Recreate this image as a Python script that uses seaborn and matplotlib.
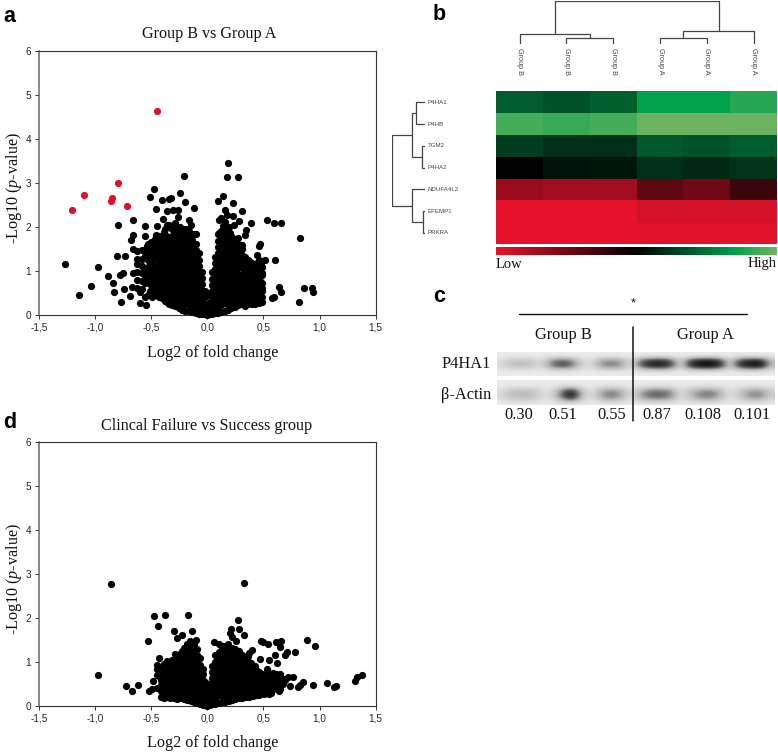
import numpy as np
import pandas as pd
import matplotlib
matplotlib.use("Agg")
import matplotlib.pyplot as plt
from matplotlib import font_manager
from matplotlib.colors import LinearSegmentedColormap
import seaborn as sns

W, H = 778, 753

# ---------- Panel a: labelled points ----------
a_red_x = [-0.451, -0.793, -1.096, -0.85, -0.858, -0.72, -1.21]
a_red_y = [4.64, 3.0, 2.73, 2.67, 2.60, 2.48, 2.38]
a_sparse_x = [0.187,-0.208,0.175,0.276,-0.478,-0.514,-0.247,-0.324,-0.40,-0.339,-0.199,0.137,0.098,0.232,
    -0.454,-0.116,0.306,-0.362,-0.303,-0.264,0.157,0.172,0.232,-0.258,-0.398,-0.166,-0.665,0.532,0.594,0.653,
    0.386,0.107,-0.799,-0.558,-0.445,-0.347,0.285,0.24,0.143,0.347,0.339,0.823,-0.665,-0.68,-0.558,-0.454,
    0.469,0.457,0.306,0.514,0.606,0.445,-1.265,-0.974,-0.805,-0.731,-0.659,-0.778,-0.748,-0.885,-0.659,-0.84,
    -1.04,-1.143,-0.832,-0.742,-0.772,-0.689,-0.674,-0.597,-0.597,-0.549,0.49,0.445,0.49,0.484,0.636,0.656,
    0.579,0.594,0.817,0.864,0.935,0.944,0.463,0.41,0.457,
    -0.36,-0.32,-0.29,-0.24,-0.15,-0.11,-0.17,-0.38,-0.33,-0.45,-0.5,-0.54,
    0.1,0.17,0.2,0.12,0.16,0.19,0.25,0.27,0.29,0.335,0.37,0.39,0.41,0.44,0.46,0.48]
a_sparse_y = [3.46,3.17,3.14,3.14,2.87,2.68,2.77,2.67,2.61,2.64,2.56,2.70,2.58,2.55,
    2.42,2.43,2.36,2.36,2.39,2.39,2.38,2.28,2.24,2.23,2.19,2.17,2.15,2.17,2.09,2.09,
    2.10,2.16,2.04,2.03,2.03,2.05,2.13,2.04,2.03,1.94,1.81,1.74,1.81,1.71,1.80,1.81,
    1.61,1.56,1.6,1.26,1.26,1.37,1.17,1.08,1.33,1.35,1.5,0.92,0.95,0.89,0.95,0.73,
    0.65,0.45,0.53,0.59,0.29,0.44,0.64,0.53,0.27,0.23,0.96,0.80,0.73,0.61,0.64,0.52,
    0.39,0.42,0.30,0.61,0.61,0.52,0.46,0.27,0.27,
    2.05,2.03,2.08,2.0,2.05,1.85,1.95,1.82,1.78,1.72,1.65,1.56,
    1.87,1.95,1.87,2.2,2.12,2.0,1.72,1.75,1.58,1.2,1.22,1.12,1.02,1.05,1.25,1.2]
# dense cloud, estimated column by column
a_dense = {
 -0.625:[1.45,1.28,1.15,0.98,0.8,0.62], -0.585:[1.48,1.28,1.12,0.95,0.78,0.58],
 -0.555:[1.45,1.35,1.05,0.88,0.72,0.4], -0.525:[1.62,1.5,1.25,1.1,0.92,0.78,0.45],
 -0.495:[1.65,1.42,1.18,1.0,0.85,0.62,0.42], -0.465:[1.72,1.5,1.3,1.1,0.95,0.78,0.62,0.46],
 -0.435:[1.8,1.6,1.4,1.22,1.0,0.82,0.65,0.4], -0.405:[1.72,1.52,1.28,1.12,0.9,0.72,0.52,0.38],
 -0.375:[1.95,1.82,1.62,1.45,1.25,1.05,0.85,0.62,0.48,0.32],
 -0.345:[2.05,1.78,1.6,1.42,1.25,1.1,0.95,0.8,0.65,0.5,0.36,0.25],
 -0.315:[1.95,1.8,1.68,1.52,1.38,1.22,1.08,0.92,0.78,0.62,0.48,0.34,0.22],
 -0.285:[2.0,1.85,1.72,1.58,1.44,1.3,1.16,1.02,0.88,0.74,0.6,0.46,0.32,0.2],
 -0.255:[1.95,1.8,1.66,1.52,1.38,1.24,1.1,0.96,0.82,0.68,0.54,0.4,0.26,0.16],
 -0.225:[1.9,1.76,1.62,1.48,1.34,1.2,1.06,0.92,0.78,0.64,0.5,0.36,0.22,0.12],
 -0.195:[1.95,1.8,1.66,1.52,1.38,1.24,1.1,0.96,0.82,0.68,0.54,0.4,0.26,0.1],
 -0.165:[1.9,1.76,1.62,1.48,1.34,1.2,1.06,0.92,0.78,0.64,0.5,0.36,0.22,0.08],
 -0.135:[1.85,1.7,1.56,1.42,1.28,1.14,1.0,0.86,0.72,0.58,0.44,0.3,0.16,0.06],
 -0.105:[1.85,1.62,1.48,1.34,1.2,1.06,0.92,0.78,0.64,0.5,0.36,0.22,0.05],
 -0.075:[1.4,1.26,1.12,0.98,0.84,0.7,0.56,0.42,0.28,0.14,0.03],
 -0.045:[0.98,0.85,0.7,0.56,0.42,0.28,0.14,0.02], -0.02:[0.55,0.4,0.25,0.1,0.02],
 0.0:[0.12,0.01], 0.02:[0.45,0.3,0.15,0.02],
 0.045:[0.98,0.82,0.68,0.54,0.4,0.26,0.12,0.02], 0.07:[1.32,1.18,1.04,0.9,0.76,0.62,0.48,0.34,0.2,0.05],
 0.095:[1.85,1.68,1.54,1.4,1.26,1.12,0.98,0.84,0.7,0.56,0.42,0.28,0.14,0.05],
 0.125:[1.9,1.76,1.62,1.48,1.34,1.2,1.06,0.92,0.78,0.64,0.5,0.36,0.22,0.07],
 0.155:[1.95,1.82,1.68,1.54,1.4,1.26,1.12,0.98,0.84,0.7,0.56,0.42,0.28,0.1],
 0.185:[1.9,1.76,1.62,1.48,1.34,1.2,1.06,0.92,0.78,0.64,0.5,0.36,0.22,0.12],
 0.215:[1.8,1.66,1.52,1.38,1.24,1.1,0.96,0.82,0.68,0.54,0.4,0.26,0.15],
 0.245:[1.72,1.58,1.44,1.3,1.16,1.02,0.88,0.74,0.6,0.46,0.32,0.18],
 0.275:[1.62,1.48,1.34,1.2,1.06,0.92,0.78,0.64,0.5,0.36,0.22],
 0.305:[1.5,1.36,1.22,1.08,0.94,0.8,0.66,0.52,0.38,0.24],
 0.335:[1.32,1.18,1.04,0.9,0.76,0.62,0.48,0.34,0.2],
 0.365:[1.25,1.1,0.95,0.8,0.65,0.5,0.36,0.24],
 0.395:[1.18,1.02,0.85,0.7,0.52,0.38,0.26],
 0.425:[1.08,0.9,0.72,0.55,0.42,0.26], 0.455:[1.2,1.0,0.85,0.72,0.5,0.36],
 0.485:[1.22,1.08,0.9,0.55,0.42,0.3],
}
a_fill = {
 -0.51:[1.55,1.38,1.2,1.05,0.88,0.7,0.55], -0.48:[1.58,1.32,1.12,0.92,0.7,0.52],
 -0.45:[1.7,1.5,1.32,1.12,0.9,0.72,0.52], -0.42:[1.62,1.42,1.2,1.02,0.82,0.62,0.45],
 -0.39:[1.88,1.72,1.55,1.35,1.15,0.98,0.78,0.58,0.42], -0.36:[1.7,1.52,1.35,1.15,0.95,0.75,0.58,0.4,0.3],
 0.38:[1.15,0.98,0.78,0.6,0.42,0.3], 0.41:[1.0,0.82,0.62,0.45,0.32],
 0.44:[1.12,0.95,0.78,0.62,0.45,0.32], 0.47:[1.05,0.78,0.6,0.4],
}

# ---------- Panel d ----------
d_sparse_x = [-0.855,0.324,-0.475,-0.377,-0.172,0.276,-0.442,0.208,0.279,-0.297,-0.134,0.202,0.33,-0.223,-0.273,
    0.217,0.255,-0.529,-0.104,-0.154,0.062,0.107,0.187,0.143,0.481,0.499,0.543,0.609,0.653,0.647,0.885,0.959,
    0.401,0.374,0.784,0.713,0.692,0.606,0.365,0.62,0.469,0.552,-0.288,-0.273,-0.428,-0.451,-0.451,-0.451,-0.422,
    -0.487,-0.345,-0.977,-0.725,-0.668,-0.62,-0.517,-0.496,-0.445,1.375,1.33,1.313,1.063,0.938,1.132,1.143,
    0.855,0.825,0.81,0.766,0.722,0.677,0.737,0.647,0.647,0.582,0.529,0.425,0.395,0.692,0.632,0.588,0.603,0.529,
    0.558,0.499,0.44,0.469,0.41]
d_sparse_y = [2.78,2.80,2.05,2.07,2.06,1.95,1.81,1.75,1.75,1.70,1.70,1.67,1.61,1.61,1.55,
    1.57,1.47,1.47,1.51,1.47,1.45,1.42,1.40,1.36,1.48,1.45,1.40,1.45,1.47,1.34,1.50,1.37,
    1.28,1.2,1.22,1.22,1.17,1.15,1.14,0.97,1.06,1.04,1.19,1.11,1.08,0.94,0.84,0.71,0.66,
    0.56,1.0,0.70,0.45,0.33,0.48,0.34,0.39,0.40,0.70,0.65,0.56,0.52,0.48,0.43,0.45,
    0.54,0.48,0.43,0.65,0.67,0.62,0.45,0.73,0.39,0.75,0.83,0.92,0.83,0.6,0.52,0.45,0.64,0.56,
    0.37,0.30,0.41,0.6,0.22]
d_dense = {
 -0.41:[0.72,0.6,0.48,0.34,0.2], -0.385:[0.95,0.82,0.68,0.54,0.4,0.26,0.18],
 -0.36:[1.02,0.88,0.76,0.62,0.48,0.34,0.2], -0.33:[0.98,0.84,0.7,0.56,0.42,0.28,0.18],
 -0.30:[1.0,0.88,0.74,0.6,0.46,0.32,0.18], -0.27:[1.1,0.98,0.84,0.7,0.56,0.42,0.28,0.16],
 -0.24:[1.18,1.02,0.88,0.74,0.6,0.46,0.32,0.18], -0.21:[1.32,1.18,1.04,0.9,0.76,0.62,0.48,0.34,0.16],
 -0.18:[1.4,1.26,1.12,0.98,0.84,0.7,0.56,0.42,0.28,0.14], -0.15:[1.45,1.32,1.18,1.04,0.9,0.76,0.62,0.48,0.34,0.2,0.12],
 -0.12:[1.42,1.28,1.14,1.0,0.86,0.72,0.58,0.44,0.3,0.16,0.09], -0.09:[1.3,1.16,1.02,0.88,0.74,0.6,0.46,0.32,0.18,0.06],
 -0.065:[1.08,0.94,0.8,0.66,0.52,0.38,0.24,0.05], -0.04:[0.85,0.72,0.58,0.44,0.3,0.16,0.03],
 -0.02:[0.55,0.42,0.28,0.14,0.02], 0.0:[0.12,0.01], 0.02:[0.5,0.36,0.22,0.08,0.02],
 0.045:[0.92,0.78,0.64,0.5,0.36,0.22,0.04], 0.07:[1.15,1.0,0.86,0.72,0.58,0.44,0.3,0.16,0.05],
 0.10:[1.22,1.08,0.94,0.8,0.66,0.52,0.38,0.24,0.06], 0.13:[1.32,1.18,1.04,0.9,0.76,0.62,0.48,0.34,0.2,0.08],
 0.16:[1.3,1.16,1.02,0.88,0.74,0.6,0.46,0.32,0.18,0.1], 0.19:[1.35,1.22,1.08,0.94,0.8,0.66,0.52,0.38,0.24,0.12],
 0.22:[1.32,1.18,1.04,0.9,0.76,0.62,0.48,0.34,0.2,0.14], 0.25:[1.3,1.16,1.02,0.88,0.74,0.6,0.46,0.32,0.16],
 0.28:[1.25,1.1,0.96,0.82,0.68,0.54,0.4,0.26,0.18], 0.31:[1.15,1.0,0.86,0.72,0.58,0.44,0.3,0.18],
 0.34:[1.08,0.94,0.8,0.66,0.52,0.38,0.24,0.2], 0.37:[1.0,0.86,0.72,0.58,0.44,0.3,0.2],
 0.40:[0.92,0.78,0.64,0.5,0.36,0.22], 0.43:[0.82,0.68,0.54,0.4,0.26], 0.46:[0.78,0.64,0.5,0.36,0.26],
 0.49:[0.72,0.58,0.44,0.3], 0.52:[0.72,0.58,0.44,0.32], 0.55:[0.68,0.54,0.4,0.28], 0.58:[0.62,0.48,0.36],
 0.61:[0.72,0.58,0.42], 0.64:[0.6,0.48,0.35], 0.67:[0.62,0.5],
}
d_fill = {
 -0.395:[0.88,0.74,0.6,0.46,0.32,0.2], -0.37:[0.95,0.8,0.66,0.52,0.38,0.26],
 -0.345:[0.92,0.78,0.64,0.5,0.36,0.24], -0.315:[1.05,0.9,0.76,0.62,0.48,0.34,0.22],
 -0.285:[1.02,0.92,0.78,0.64,0.5,0.36,0.24], -0.255:[1.12,0.98,0.84,0.7,0.56,0.42,0.28,0.18],
 -0.225:[1.25,1.1,0.96,0.82,0.68,0.54,0.4,0.26], -0.195:[1.32,1.2,1.06,0.92,0.78,0.64,0.5,0.36,0.22],
 0.295:[1.18,1.05,0.9,0.76,0.62,0.48,0.34,0.22], 0.325:[1.12,0.98,0.84,0.7,0.56,0.42,0.28],
 0.355:[1.02,0.9,0.76,0.62,0.48,0.34,0.22], 0.385:[0.98,0.82,0.68,0.54,0.4,0.26],
 0.415:[0.88,0.72,0.58,0.44,0.3], 0.445:[0.8,0.62,0.48,0.34,0.24], 0.475:[0.72,0.56,0.42,0.3],
 0.505:[0.66,0.52,0.38,0.28], 0.535:[0.6,0.46,0.34], 0.565:[0.72,0.55,0.42,0.3],
}

# ---------- Panel b ----------
genes = ["P4HA1", "P4HB", "TGM2", "P4HA2", "NDUFA4L2", "EFEMP1", "PRKRA"]
samples = ["Group B", "Group B", "Group B", "Group A", "Group A", "Group A"]
expr = [[0.70, 0.68, 0.71, 0.85, 0.85, 0.90],
        [0.94, 0.92, 0.94, 0.99, 0.99, 0.99],
        [0.63, 0.60, 0.60, 0.69, 0.68, 0.70],
        [0.50, 0.54, 0.55, 0.60, 0.585, 0.61],
        [0.17, 0.15, 0.15, 0.30, 0.26, 0.37],
        [0.00, 0.00, 0.00, 0.04, 0.04, 0.04],
        [0.00, 0.00, 0.00, 0.01, 0.01, 0.01]]
heat_nodes = [(0.0, "#e6122b"), (0.5, "#000000"), (0.85, "#00a04c"), (1.0, "#72b361")]
# dendrogram merges: (left position, left base, right position, right base, height), leaf units
col_merges = [(1, 0, 2, 0, 6), (0, 0, 1.5, 6, 10), (3, 0, 4, 0, 6.5), (3.5, 6.5, 5, 0, 13), (0.75, 10, 4.25, 13, 43.5)]
row_merges = [(0, 0, 1, 0, 27), (2, 0, 3, 0, 10), (0.5, 27, 2.5, 10, 40), (5, 0, 6, 0, 5),
              (4, 0, 5.5, 5, 40), (1.5, 40, 4.75, 40, 98)]

# ---------- Panel c ----------
lane_labels = ["0.30", "0.51", "0.55", "0.87", "0.108", "0.101"]
p4ha1_band = [.1,.25,.27,.22,.08,.5,.68,.55,.15,.08,.42,.5,.42,.06,.6,.85,.9,.72,.08,.8,.95,1.0,.8,.12,.8,.9,1.0,.3]
p4ha1_rows = [0.0, 0.15, 0.7, 1.0, 1.0, 0.55, 0.1, 0.0]
actin_band = [.1,.28,.3,.28,.12,.08,.55,1.0,.3,.04,.4,.55,.4,.04,.4,.6,.62,.5,.06,.3,.5,.55,.35,.05,.25,.45,.5,.2]
actin_rows = [0.0, 0.05, 0.4, 0.85, 1.0, 0.9, 0.5, 0.1]

# ---------- Layout helpers ----------
def rect(x0, y0, x1, y1):
    return [x0 / W, 1 - y1 / H, (x1 - x0) / W, (y1 - y0) / H]

def ftext(x, y, s, **kw):
    kw.setdefault("ha", "center")
    kw.setdefault("va", "center")
    kw.setdefault("family", "Liberation Serif")
    kw.setdefault("color", "#111111")
    fig.text(x / W, 1 - y / H, s, **kw)

def flatten(*dicts):
    xs, ys = [], []
    for d in dicts:
        for x, vals in d.items():
            xs += [x] * len(vals)
            ys += vals
    return xs, ys

sns.set_theme(style="ticks")
plt.rcParams["font.family"] = ["Liberation Sans", "DejaVu Sans"]
plt.rcParams["mathtext.fontset"] = "custom"
plt.rcParams["mathtext.it"] = "Liberation Serif:italic"
plt.rcParams["mathtext.rm"] = "Liberation Serif"

installed = {f.name for f in font_manager.fontManager.ttflist}
narrow_ok = "Liberation Sans Narrow" in installed
small_family = "Liberation Sans Narrow" if narrow_ok else "Liberation Sans"
row_size = 5.2 if narrow_ok else 4.4

fig = plt.figure(figsize=(W / 100, H / 100), dpi=100)

xticks = [-1.5, -1.0, -0.5, 0.0, 0.5, 1.0, 1.5]
xticklabels = ["-1,5", "-1,0", "-0,5", "0,0", "0,5", "1,0", "1,5"]
yticks = [0, 1, 2, 3, 4, 5, 6]

def volcano(box, xs, ys, red_x=None, red_y=None):
    ax = fig.add_axes(rect(*box))
    df = pd.DataFrame({"fc": xs, "p": ys})
    sns.scatterplot(data=df, x="fc", y="p", ax=ax, color="#000000", s=27, linewidth=0, clip_on=False, zorder=3)
    if red_x:
        sns.scatterplot(x=red_x, y=red_y, ax=ax, color="#d7142c", s=27, linewidth=0, clip_on=False, zorder=4)
    ax.set_xlim(-1.5, 1.5)
    ax.set_ylim(0, 6)
    ax.set_xticks(xticks, xticklabels)
    ax.set_yticks(yticks)
    ax.tick_params(length=3, width=0.7, labelsize=7.2, color="#333333", labelcolor="#222222", pad=2.5)
    ax.set_xlabel("")
    ax.set_ylabel("")
    for sp in ax.spines.values():
        sp.set_visible(True)
        sp.set_linewidth(0.8)
        sp.set_color("#333333")
    ax.spines["left"].set_color("#666666")
    ax.spines["left"].set_linewidth(1.1)
    return ax

ax_a_x, ax_a_y = flatten(a_dense, a_fill)
volcano((39, 51, 375.7, 315), ax_a_x + a_sparse_x, ax_a_y + a_sparse_y, a_red_x, a_red_y)
ax_d_x, ax_d_y = flatten(d_dense, d_fill)
volcano((39, 442, 375.7, 706), ax_d_x + d_sparse_x, ax_d_y + d_sparse_y)

ylab = r"-Log10 ($\mathit{p}$-value)"
ftext(209.5, 34, "Group B vs Group A", fontsize=11.6)
ftext(207, 426, "Clincal Failure vs Success group", fontsize=11.6)
ftext(213, 353, "Log2 of fold change", fontsize=11.6)
ftext(213, 743, "Log2 of fold change", fontsize=11.6)
ftext(14, 188, ylab, fontsize=11.6, rotation=90)
ftext(14, 579, ylab, fontsize=11.6, rotation=90)

# Panel b heat map with colour bar
cmap = LinearSegmentedColormap.from_list("rkg", heat_nodes)
ax_h = fig.add_axes(rect(496.3, 91.3, 777, 244))
ax_cb = fig.add_axes(rect(496.3, 247, 777, 255))
sns.heatmap(pd.DataFrame(expr, index=genes), ax=ax_h, cmap=cmap, vmin=0, vmax=1, cbar_ax=ax_cb,
            cbar_kws={"orientation": "horizontal"}, xticklabels=False, yticklabels=False)
ax_cb.set_xticks([])
ax_cb.tick_params(length=0)
for sp in ax_cb.spines.values():
    sp.set_visible(False)
ftext(496, 264, "Low", fontsize=10.5, ha="left")
ftext(777, 264, "High", fontsize=10.5, ha="right")

ax_ct = fig.add_axes(rect(496.3, 0.7, 777, 44.2))
ax_ct.axis("off")
ax_ct.set_xlim(-0.5, 5.5)
ax_ct.set_ylim(0, 43.5)
for x0, b0, x1, b1, h in col_merges:
    ax_ct.plot([x0, x0, x1, x1], [b0, h, h, b1], color="#444444", lw=0.9, solid_joinstyle="miter")
for i, s in enumerate(samples):
    ftext(519.7 + i * 46.8, 61.5, s, fontsize=5.2, rotation=-90, family="Liberation Sans", color="#444444")

ax_cr = fig.add_axes(rect(392.3, 91.3, 425, 244))
ax_cr.axis("off")
ax_cr.set_xlim(98, 0)
ax_cr.set_ylim(6.5, -0.5)
for y0, b0, y1, b1, h in row_merges:
    ax_cr.plot([b0, h, h, b1], [y0, y0, y1, y1], color="#444444", lw=0.9, solid_joinstyle="miter")
for i, g in enumerate(genes):
    ftext(427.5, 102.2 + i * 21.8, g, fontsize=row_size, ha="left", family=small_family, color="#444444")

# Panel c blots
blot_cmap = LinearSegmentedColormap.from_list("blot", ["#ebebeb", "#b5b5b5", "#505050", "#0a0a0a"])
for box, band, rows in [((497, 352, 775, 376), p4ha1_band, p4ha1_rows), ((497, 380, 775, 405), actin_band, actin_rows)]:
    ax = fig.add_axes(rect(*box))
    ax.imshow(np.outer(rows, band), cmap=blot_cmap, vmin=0, vmax=1, aspect="auto", interpolation="bicubic")
    ax.axis("off")

ax_ov = fig.add_axes([0, 0, 1, 1])
ax_ov.axis("off")
ax_ov.set_xlim(0, W)
ax_ov.set_ylim(H, 0)
ax_ov.plot([519, 747], [314, 314], color="#111111", lw=1.0)
ax_ov.plot([633.5, 633.5], [327, 421], color="#111111", lw=1.1)
ftext(633, 303, "*", fontsize=9, family="Liberation Sans")
ftext(563, 335, "Group B", fontsize=11.8)
ftext(705, 335, "Group A", fontsize=11.8)
ftext(441, 364, "P4HA1", fontsize=11.8, ha="left")
ftext(441, 395, "β-Actin", fontsize=11.8, ha="left")
for cx, s in zip([519, 563, 612, 657, 703, 752], lane_labels):
    ftext(cx, 415, s, fontsize=11.8)

for x, y, s in [(3, 16, "a"), (433, 15, "b"), (433, 297, "c"), (3, 423, "d")]:
    ftext(x, y, s, fontsize=15.5, ha="left", family="Liberation Sans", weight="bold", color="#000000")

fig.savefig("out.png", dpi=100)
